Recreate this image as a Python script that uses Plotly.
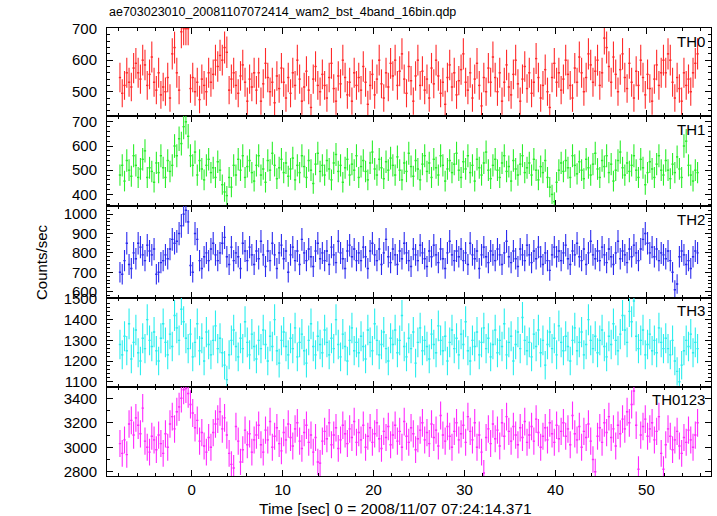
import numpy as np
import plotly.graph_objects as go

# ---------------- data (count rates in 0.25 s bins) ----------------
BIN_SEC = 0.25
FIRST_BIN = -7.875

TH0 = [545, 495, 520, 560, 530, 515, 575, 590, 560, 540, 600, 585, 520, 555, 610,
       530, 505, 560, 490, 515, 500, 545, 480, 620, 640, 560, 505, 690, 700, 700,
       700, 510, 545, 500, 530, 475, 540, 520, 500, 560, 530, 555, 600, 580, 615,
       600, 640, 625, 505, 540, 560, 520, 495, 550, 585, 530, 470, 540, 515, 560,
       505, 560, 470, 525, 590, 545, 500, 530, 465, 550, 510, 575, 530, 480, 545,
       495, 560, 520, 600, 540, 470, 515, 565, 505, 450, 540, 580, 520, 500, 555,
       520, 480, 545, 590, 510, 470, 550, 525, 600, 545, 490, 530, 470, 560, 520,
       545, 505, 580, 530, 460, 520, 555, 490, 540, 600, 525, 480, 560, 515, 590,
       550, 600, 520, 565, 620, 540, 495, 580, 535, 470, 550, 600, 520, 565, 505,
       540, 480, 575, 525, 600, 550, 495, 530, 460, 545, 585, 515, 560, 490, 535,
       570, 620, 530, 505, 560, 480, 540, 590, 520, 455, 545, 500, 575, 530, 610,
       545, 500, 560, 470, 530, 585, 515, 490, 555, 600, 525, 470, 540, 580, 510,
       560, 495, 530, 605, 545, 480, 520, 570, 500, 450, 545, 590, 530, 560, 505,
       540, 600, 555, 520, 480, 575, 530, 610, 560, 500, 545, 620, 585, 530, 565,
       600, 520, 560, 670, 640, 580, 530, 610, 555, 500, 570, 620, 545, 510, 590,
       530, 480, 565, 520, 600, 545, 490, 555, 510, 470, 540, 585, 520, 560, 600,
       560, 620, 600, 530, 480, 545, 510, 470, 560, 520, 540, 500, 560, 590, 620]

TH1 = [480, 520, 455, 540, 500, 475, 560, 520, 470, 505, 545, 580, 470, 510, 495,
       450, 530, 490, 560, 510, 470, 540, 495, 520, 600, 560, 630, 610, 680, 700,
       640, 560, 520, 575, 480, 540, 505, 460, 520, 545, 490, 510, 470, 535, 500,
       440, 410, 395, 470, 430, 520, 480, 545, 500, 560, 470, 515, 540, 490, 455,
       520, 560, 480, 505, 450, 540, 500, 570, 520, 465, 510, 545, 490, 530, 475,
       505, 550, 460, 520, 490, 560, 515, 470, 540, 500, 445, 525, 570, 495, 520,
       480, 540, 505, 460, 530, 565, 495, 520, 450, 510, 545, 480, 525, 500, 560,
       470, 515, 540, 495, 460, 530, 575, 505, 480, 545, 510, 465, 535, 500, 550,
       520, 480, 555, 500, 460, 530, 495, 570, 515, 475, 540, 505, 460, 525, 560,
       495, 530, 470, 545, 510, 480, 560, 520, 455, 505, 540, 490, 525, 570, 500,
       470, 535, 505, 560, 490, 520, 455, 545, 510, 480, 530, 575, 500, 465, 520,
       545, 500, 470, 530, 560, 495, 515, 455, 540, 505, 480, 525, 560, 490, 510,
       530, 480, 545, 500, 460, 515, 490, 540, 470, 430, 400, 370, 450, 500, 530,
       495, 540, 510, 470, 560, 520, 485, 535, 500, 465, 545, 510, 480, 525, 570,
       505, 470, 540, 515, 560, 490, 525, 455, 500, 540, 575, 510, 480, 530, 495,
       520, 560, 500, 470, 545, 510, 440, 490, 535, 505, 470, 525, 560, 500, 480,
       540, 500, 465, 525, 490, 555, 505, 470, 600, 620, 520, 480, 455, 500, 490]

TH2 = [700, 690, 760, 850, 740, 720, 800, 770, 850, 830, 790, 760, 840, 810, 790,
       820, 690, 700, 750, 760, 790, 770, 820, 870, 850, 860, 900, 940, 1000, 1020,
       960, 735, 700, 900, 870, 760, 720, 780, 800, 760, 820, 850, 790, 760, 800,
       850, 880, 780, 740, 830, 760, 800, 780, 720, 850, 810, 760, 830, 790, 740,
       810, 770, 860, 790, 730, 810, 760, 850, 790, 720, 800, 840, 770, 810, 700,
       790, 830, 760, 810, 740, 870, 800, 760, 820, 780, 730, 810, 850, 770, 800,
       760, 810, 740, 830, 790, 750, 860, 800, 770, 720, 810, 840, 780, 820, 760,
       800, 760, 830, 780, 720, 810, 850, 790, 760, 820, 740, 800, 870, 780, 750,
       820, 790, 740, 810, 770, 850, 800, 760, 730, 820, 790, 760, 840, 800, 770,
       730, 810, 780, 840, 790, 750, 820, 770, 720, 800, 860, 790, 760, 810, 780,
       820, 760, 800, 740, 850, 790, 770, 810, 720, 790, 830, 780, 750, 810, 790,
       760, 820, 790, 740, 800, 860, 780, 750, 810, 770, 730, 820, 790, 760, 840,
       790, 750, 810, 770, 830, 780, 740, 800, 760, 710, 790, 830, 780, 810, 760,
       800, 840, 770, 740, 810, 790, 850, 780, 760, 820, 740, 800, 860, 790, 770,
       810, 760, 830, 790, 750, 820, 780, 740, 800, 860, 770, 810, 790, 750, 820,
       780, 840, 800, 760, 820, 870, 900, 850, 800, 830, 780, 820, 760, 800, 790,
       770, 810, 760, 700, 610, 640, 780, 810, 790, 740, 760, 720, 780, 810, 800]

TH3 = [1280, 1230, 1320, 1250, 1380, 1210, 1290, 1350, 1240, 1200, 1310, 1260, 1400, 1300, 1270,
       1340, 1250, 1200, 1310, 1380, 1290, 1230, 1330, 1270, 1420, 1360, 1300, 1450, 1390, 1310,
       1260, 1330, 1220, 1290, 1380, 1250, 1310, 1200, 1340, 1280, 1230, 1300, 1370, 1260, 1310,
       1240, 1180, 1110, 1230, 1300, 1350, 1270, 1220, 1310, 1260, 1390, 1290, 1230, 1330, 1270,
       1210, 1300, 1260, 1350, 1280, 1200, 1320, 1270, 1400, 1250, 1190, 1300, 1340, 1270, 1230,
       1310, 1260, 1360, 1220, 1290, 1330, 1250, 1190, 1300, 1380, 1270, 1230, 1320, 1280, 1240,
       1350, 1290, 1230, 1310, 1260, 1400, 1280, 1220, 1330, 1270, 1200, 1300, 1360, 1250, 1290,
       1240, 1320, 1270, 1210, 1350, 1290, 1250, 1380, 1300, 1230, 1280, 1340, 1260, 1200, 1310,
       1280, 1350, 1240, 1300, 1420, 1270, 1220, 1310, 1260, 1340, 1190, 1290, 1360, 1250, 1300,
       1270, 1210, 1330, 1280, 1240, 1370, 1300, 1250, 1320, 1200, 1290, 1350, 1260, 1310, 1230,
       1330, 1280, 1390, 1250, 1200, 1300, 1270, 1340, 1230, 1290, 1360, 1260, 1310, 1220, 1280,
       1350, 1240, 1300, 1270, 1380, 1230, 1290, 1320, 1200, 1280, 1340, 1260, 1410, 1300, 1250,
       1290, 1220, 1330, 1270, 1350, 1240, 1300, 1180, 1280, 1340, 1260, 1310, 1230, 1370, 1290,
       1250, 1320, 1270, 1200, 1300, 1360, 1250, 1290, 1340, 1230, 1280, 1400, 1300, 1260, 1320,
       1240, 1300, 1350, 1270, 1220, 1320, 1280, 1380, 1300, 1250, 1330, 1420, 1350, 1290, 1440,
       1390, 1490, 1320, 1260, 1300, 1350, 1230, 1280, 1330, 1250, 1300, 1240, 1360, 1290, 1260,
       1310, 1260, 1230, 1300, 1200, 1150, 1100, 1180, 1250, 1300, 1270, 1330, 1240, 1290, 1260]

TH0123 = [3030, 2950, 3060, 2940, 3190, 3220, 3100, 3240, 3180, 3110, 3320, 3050, 3000, 2960, 3090,
          3060, 2980, 3100, 3030, 2950, 3110, 3000, 3190, 3250, 3150, 3290, 3330, 3400, 3470, 3480,
          3440, 3350, 3280, 3160, 3220, 3050, 3120, 3010, 2960, 3080, 3000, 3120, 3190, 3230, 3290,
          3150, 3240, 3100, 2950, 2860, 2830, 3170, 3050, 2880, 2980, 3140, 3020, 3110, 2960, 3060,
          3100, 3180, 3020, 2960, 3140, 3060, 3210, 3000, 3090, 3160, 3030, 2970, 3120, 3060, 3190,
          3080, 3010, 3150, 3200, 3050, 2990, 3120, 3180, 3040, 3100, 2960, 3080, 2880, 2870, 3050,
          3130, 3070, 3200, 3020, 3100, 3160, 2990, 3060, 3180, 3110, 3030, 3150, 3080, 3210, 3040,
          3120, 3060, 3180, 3000, 3090, 3160, 3040, 3110, 3200, 3070, 2990, 3130, 3080, 3170, 3020,
          3100, 3180, 3050, 3130, 3000, 3210, 3090, 3040, 3160, 3110, 2980, 3070, 3140, 3200, 3060,
          3120, 3030, 3190, 3080, 3140, 3010, 3260, 3100, 3050, 3170, 3090, 3000, 3130, 3200, 3060,
          3110, 3180, 3040, 3250, 3130, 3060, 3200, 3000, 3100, 2960, 2790, 3080, 3150, 3030, 3190,
          3070, 3140, 3010, 3200, 3090, 3250, 3130, 3050, 3170, 3100, 3020, 3160, 3080, 3210, 3040,
          3100, 3170, 3050, 3230, 3120, 3000, 3090, 3160, 3060, 3200, 3110, 3040, 3180, 3070, 3130,
          3200, 3090, 3150, 3020, 3260, 3110, 3060, 3170, 3000, 3130, 3080, 3190, 3050, 2900, 2800,
          3090, 3160, 3040, 3200, 3120, 3250, 3080, 3150, 3010, 3180, 3110, 3230, 3150, 3290, 3200,
          3350, 3460, 3180, 2820, 3100, 3170, 3230, 3090, 3150, 3200, 3060, 3130, 3250, 2950, 2820,
          3020, 3150, 3090, 2980, 3060, 3130, 3010, 2950, 3080, 3040, 3140, 3060, 3000, 3100, 3200]

bands = ["TH0", "TH1", "TH2", "TH3", "TH0123"]
series = [TH0, TH1, TH2, TH3, TH0123]
colors = ["#ff2a2a", "#2aee2a", "#2a2aee", "#2aeeee", "#ff2aff"]
y_ranges = [[423, 702], [352, 724], [569, 1042], [1076, 1506], [2765, 3495]]
y_major = [100, 100, 100, 100, 200]
y_minor = [20, 20, 20, 20, 100]

x_range = [-9.3, 57.1]
title_text = "ae703023010_20081107072414_wam2_bst_4band_16bin.qdp"
x_title = "Time [sec] 0 = 2008/11/07 07:24:14.371"
y_title = "Counts/sec"

# ---------------- figure ----------------
W, H = 717, 516
ML, MR, MT, MB = 107, 6, 28, 40
bounds_px = [28, 116, 206, 297.7, 386.7, 476]   # panel edges, px from top
plot_h = bounds_px[-1] - bounds_px[0]
plot_w = W - ML - MR

fig = go.Figure()
font_fam = "Liberation Sans, Arial, sans-serif"

for i, (name, vals, col) in enumerate(zip(bands, series, colors)):
    idx = i + 1
    xa = "x" if idx == 1 else f"x{idx}"
    ya = "y" if idx == 1 else f"y{idx}"
    v = np.array(vals, dtype=float)
    t = FIRST_BIN + BIN_SEC * np.arange(len(v))     # bin centres
    err = np.sqrt(v * BIN_SEC) / BIN_SEC            # Poisson error of a rate
    fig.add_trace(go.Scatter(
        x=t, y=v, xaxis=xa, yaxis=ya, mode="markers",
        marker=dict(size=1, color=col),
        error_x=dict(type="constant", value=BIN_SEC / 2, width=0, thickness=1.4, color=col),
        error_y=dict(type="data", array=err, width=0, thickness=1.1, color=col),
        showlegend=False, hoverinfo="skip"))

    top_px, bot_px = bounds_px[i], bounds_px[i + 1]
    dom = [(bounds_px[-1] - bot_px) / plot_h, (bounds_px[-1] - top_px) / plot_h]

    xkey = "xaxis" if idx == 1 else f"xaxis{idx}"
    ykey = "yaxis" if idx == 1 else f"yaxis{idx}"
    fig.layout[xkey] = dict(
        range=x_range, anchor=ya, domain=[0, 1],
        showgrid=False, zeroline=False, showline=True, linecolor="black", linewidth=1,
        mirror="ticks", ticks="inside", ticklen=6, tickcolor="black", dtick=10, tick0=0,
        minor=dict(dtick=2, ticklen=3, ticks="inside", tickcolor="black"),
        showticklabels=(idx == 5),
        tickfont=dict(family=font_fam, size=15, color="black"),
    )
    if idx != 1:
        fig.layout[xkey]["matches"] = "x"
    fig.layout[ykey] = dict(
        range=y_ranges[i], anchor=xa, domain=dom,
        showgrid=False, zeroline=False, showline=True, linecolor="black", linewidth=1,
        mirror="ticks", ticks="inside", ticklen=6, tickcolor="black",
        dtick=y_major[i], tick0=0,
        minor=dict(dtick=y_minor[i], ticklen=3, ticks="inside", tickcolor="black"),
        tickfont=dict(family=font_fam, size=15, color="black"),
        ticklabelstandoff=6,
    )
    fig.add_annotation(
        text=name, xref="paper", yref="paper", x=0.993, y=dom[1] - 0.006,
        xanchor="right", yanchor="top", showarrow=False,
        font=dict(family=font_fam, size=15, color="black"))

fig.add_annotation(text=title_text, xref="paper", yref="paper",
                   x=0.0, y=1.0 + 16 / plot_h, xanchor="left", yanchor="middle",
                   showarrow=False, font=dict(family=font_fam, size=12.5, color="black"))
fig.add_annotation(text=x_title, xref="paper", yref="paper",
                   x=(395 - ML) / plot_w, y=-32 / plot_h, xanchor="center", yanchor="middle",
                   showarrow=False, font=dict(family=font_fam, size=15.5, color="black"))
fig.add_annotation(text=y_title, xref="paper", yref="paper",
                   x=-66 / plot_w, y=(476 - 262) / plot_h,
                   xanchor="center", yanchor="middle",
                   textangle=-90, showarrow=False,
                   font=dict(family=font_fam, size=15, color="black"))

fig.update_layout(
    width=W, height=H, margin=dict(l=ML, r=MR, t=MT, b=MB, pad=0),
    paper_bgcolor="white", plot_bgcolor="white",
)

fig.write_html("out.html", config={"displayModeBar": False},
               post_script="document.body.style.margin='0';document.body.style.padding='0';")
